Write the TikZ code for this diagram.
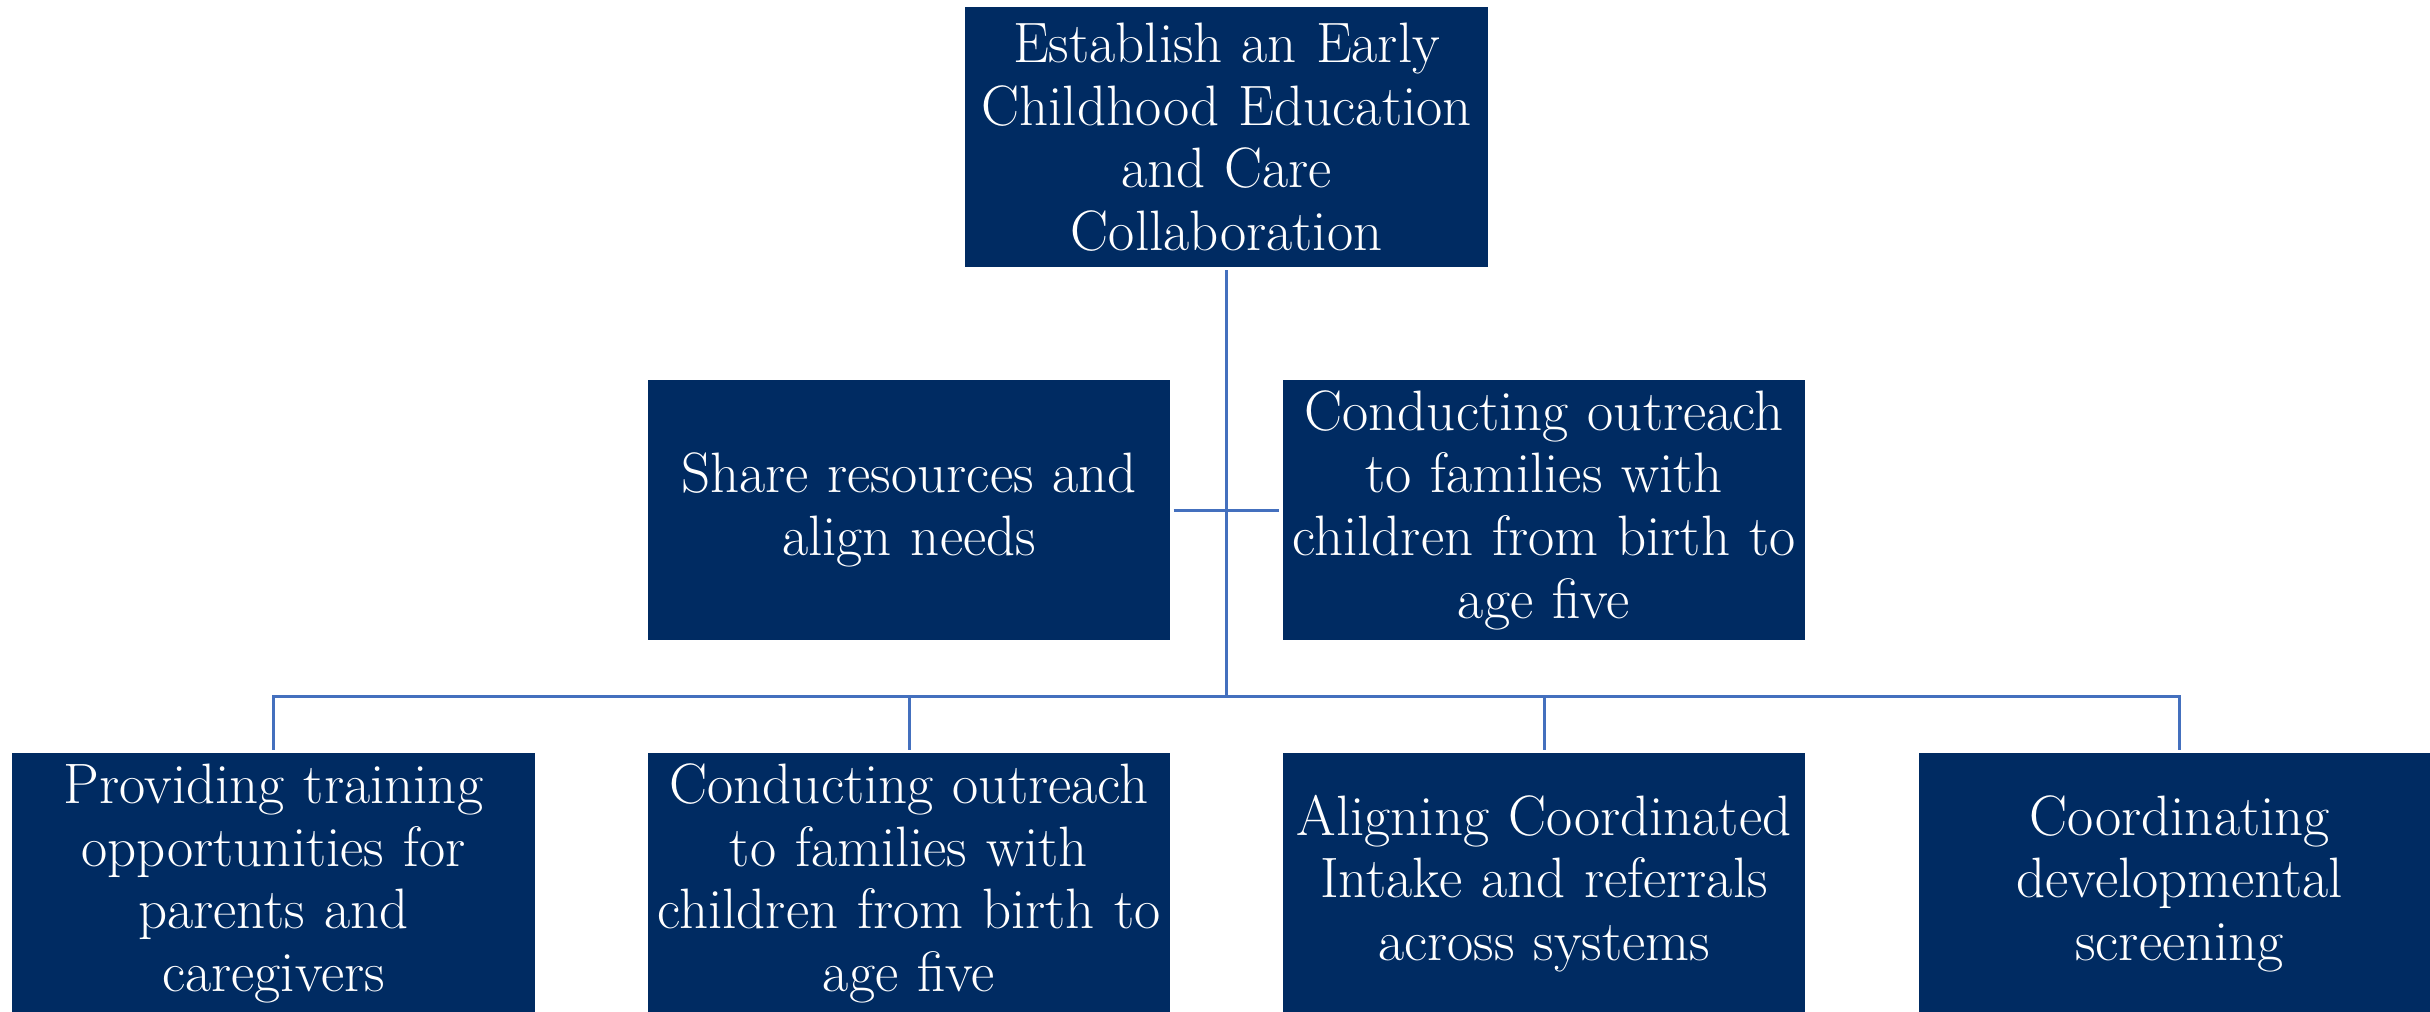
\documentclass[tikz,border=0pt]{standalone}
\usepackage{fontspec}
\setmainfont{Latin Modern Roman}
\definecolor{navy}{HTML}{002B62}
\definecolor{linkblue}{HTML}{4470BE}
\begin{document}
\begin{tikzpicture}[x=0.01cm,y=-0.01cm,
  box/.style={rectangle, fill=navy, text=white, inner sep=0pt, outer sep=1pt,
    minimum width=5.22cm, minimum height=2.6cm, text width=5.2cm, align=center,
    font=\fontsize{16.2}{17.8}\selectfont},
  conn/.style={draw=linkblue, line width=0.85pt}]
\useasboundingbox (0,0) rectangle (2430,1011);

% top goal
\node[box, minimum height=2.59cm] (top) at (1226.6,137) {Establish an Early\\Childhood Education\\and Care\\Collaboration};

% middle row
\node[box] (m1) at (909,510) {Share resources and\\align needs};
\node[box] (m2) at (1544,510) {Conducting outreach\\to families with\\children from birth to\\age five};

% bottom row
\node[box] (b1) at (273.5,883.5) {Providing training\\opportunities for\\parents and\\caregivers};
\node[box] (b2) at (909,883.5) {Conducting outreach\\to families with\\children from birth to\\age five};
\node[box] (b3) at (1544,883.5) {Aligning Coordinated\\Intake and referrals\\across systems};
\node[box] (b4) at (2179.7,883.5) {Coordinating\\developmental\\screening};

% connectors
\coordinate (bus) at (1226.6,696);
\draw[conn] (top) -- (top |- bus);
\draw[conn] (m1.east) -- (m2.west);
\draw[conn] (b1.north) -- (b1.north |- bus) -- (b4.north |- bus) -- (b4.north);
\draw[conn] (b2.north) -- (b2.north |- bus);
\draw[conn] (b3.north) -- (b3.north |- bus);
\end{tikzpicture}
\end{document}
